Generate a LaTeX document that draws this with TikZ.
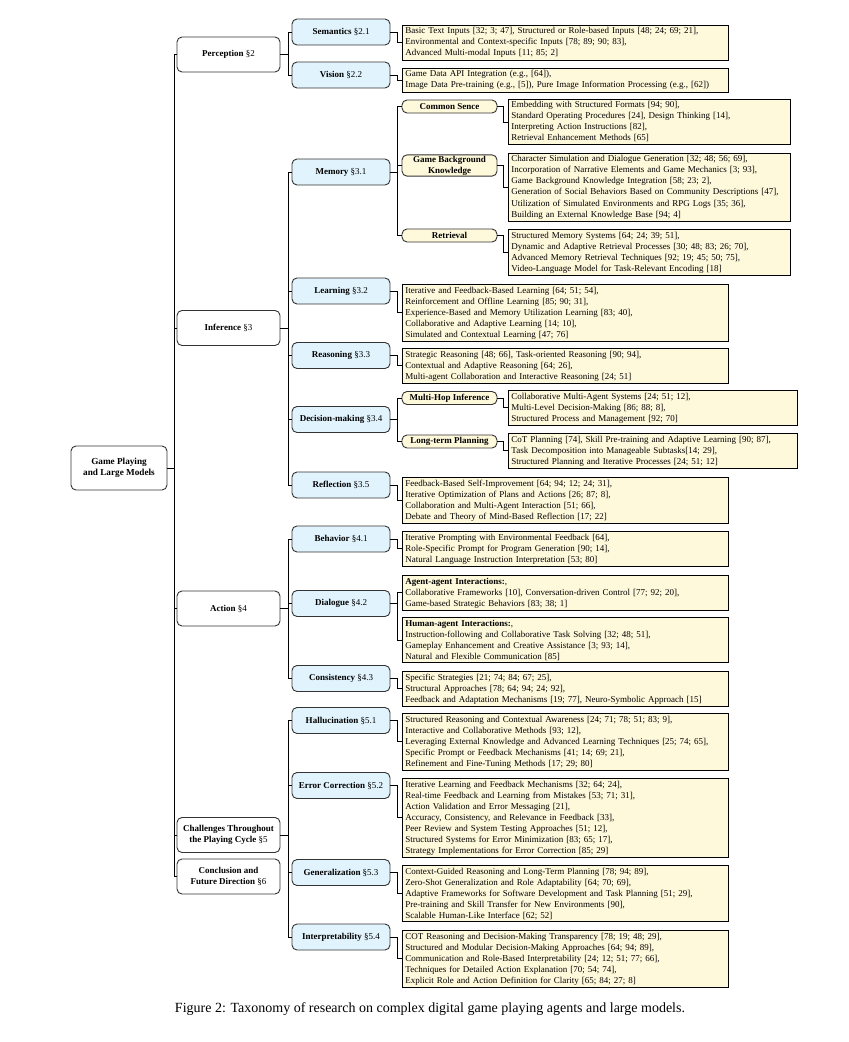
\documentclass[tikz,border=0pt]{standalone}
\usepackage{fontspec}
\setmainfont{Liberation Serif}
\usetikzlibrary{positioning}
\definecolor{secblue}{HTML}{E1F3FC}
\definecolor{leafyellow}{HTML}{FFF9DC}

\begin{document}
\begin{tikzpicture}
    [
    x=1pt, y=-1pt,
    every node/.style={font=\fontsize{9}{11}\selectfont},
    rootbox/.style={
        rectangle,
        draw=black!80,
        line width=0.9pt,
        rounded corners=5pt,
        fill=white,
        minimum width=96pt,
        minimum height=44pt,
        align=center,
        font=\fontsize{9.2}{11.5}\selectfont\bfseries
    },
    topicbox/.style={
        rectangle,
        draw=black!80,
        line width=0.9pt,
        rounded corners=5pt,
        fill=white,
        minimum width=103pt,
        minimum height=35pt,
        align=center
    },
    secbox/.style={
        rectangle,
        draw=black!80,
        line width=0.9pt,
        rounded corners=5pt,
        fill=secblue,
        minimum width=98pt,
        minimum height=26pt,
        align=center
    },
    aspect/.style={
        rectangle,
        draw=black!80,
        line width=0.9pt,
        rounded corners=5pt,
        fill=leafyellow,
        minimum width=95pt,
        minimum height=13pt,
        inner ysep=1pt,
        align=center,
        font=\fontsize{9}{11}\selectfont\bfseries
    },
    leaf/.style={
        rectangle,
        draw=black,
        line width=0.9pt,
        fill=leafyellow,
        anchor=north west,
        align=left,
        text width=320pt,
        inner xsep=3pt,
        inner ysep=2.3pt
    },
    branch/.style={
        draw=black,
        line width=0.8pt
    }
    ]
    \useasboundingbox (0,0) rectangle (849,1042);

    % root and first level
    \node (root) [rootbox] at (119,468) {Game Playing\\and Large Models};
    \node (per) [topicbox] at (228.5,54.5) {\textbf{Perception} §2};
    \node (inf) [topicbox] at (228.5,328) {\textbf{Inference} §3};
    \node (act) [topicbox] at (228.5,608.5) {\textbf{Action} §4};
    \node (cha) [topicbox] at (228.5,835) {\textbf{Challenges Throughout}\\\textbf{the Playing Cycle} §5};
    \node (con) [topicbox] at (228.5,876.5) {\textbf{Conclusion and}\\\textbf{Future Direction} §6};

    % second level
    \node (sem) [secbox] at (341,32) {\textbf{Semantics} §2.1};
    \node (vis) [secbox] at (341,75) {\textbf{Vision} §2.2};
    \node (mem) [secbox] at (341,172) {\textbf{Memory} §3.1};
    \node (lea) [secbox] at (341,291) {\textbf{Learning} §3.2};
    \node (rea) [secbox] at (341,355.5) {\textbf{Reasoning} §3.3};
    \node (dec) [secbox] at (341,419.5) {\textbf{Decision-making} §3.4};
    \node (ref) [secbox] at (341,485) {\textbf{Reflection} §3.5};
    \node (beh) [secbox] at (341,539) {\textbf{Behavior} §4.1};
    \node (dia) [secbox] at (341,603.5) {\textbf{Dialogue} §4.2};
    \node (cns) [secbox] at (341,678.5) {\textbf{Consistency} §4.3};
    \node (hal) [secbox] at (341,720.5) {\textbf{Hallucination} §5.1};
    \node (err) [secbox] at (341,785.5) {\textbf{Error Correction} §5.2};
    \node (gen) [secbox] at (341,872.5) {\textbf{Generalization} §5.3};
    \node (int) [secbox] at (341,937) {\textbf{Interpretability} §5.4};

    % third level
    \node (cs) [aspect] at (449.5,106.5) {Common Sence};
    \node (gbk) [aspect] at (449.5,165.5) {Game Background\\Knowledge};
    \node (ret) [aspect] at (449.5,235.5) {Retrieval};
    \node (mhi) [aspect] at (449.5,398) {Multi-Hop Inference};
    \node (ltp) [aspect] at (449.5,441.5) {Long-term Planning};

    % leaves of the second level
    \node (semL) [leaf] at (402,25) {Basic Text Inputs [32; 3; 47], Structured or Role-based Inputs [48; 24; 69; 21],\\Environmental and Context-specific Inputs [78; 89; 90; 83],\\Advanced Multi-modal Inputs [11; 85; 2]};
    \node (visL) [leaf] at (402,68) {Game Data API Integration (e.g., [64]),\\Image Data Pre-training (e.g., [5]), Pure Image Information Processing (e.g., [62])};
    \node (leaL) [leaf] at (402,284) {Iterative and Feedback-Based Learning [64; 51; 54],\\Reinforcement and Offline Learning [85; 90; 31],\\Experience-Based and Memory Utilization Learning [83; 40],\\Collaborative and Adaptive Learning [14; 10],\\Simulated and Contextual Learning [47; 76]};
    \node (reaL) [leaf] at (402,348) {Strategic Reasoning [48; 66], Task-oriented Reasoning [90; 94],\\Contextual and Adaptive Reasoning [64; 26],\\Multi-agent Collaboration and Interactive Reasoning [24; 51]};
    \node (refL) [leaf] at (402,477) {Feedback-Based Self-Improvement [64; 94; 12; 24; 31],\\Iterative Optimization of Plans and Actions [26; 87; 8],\\Collaboration and Multi-Agent Interaction [51; 66],\\Debate and Theory of Mind-Based Reflection [17; 22]};
    \node (behL) [leaf] at (402,531) {Iterative Prompting with Environmental Feedback [64],\\Role-Specific Prompt for Program Generation [90; 14],\\Natural Language Instruction Interpretation [53; 80]};
    \node (agtL) [leaf] at (402,575) {\textbf{Agent-agent Interactions:},\\Collaborative Frameworks [10], Conversation-driven Control [77; 92; 20],\\Game-based Strategic Behaviors [83; 38; 1]};
    \node (humL) [leaf] at (402,617) {\textbf{Human-agent Interactions:},\\Instruction-following and Collaborative Task Solving [32; 48; 51],\\Gameplay Enhancement and Creative Assistance [3; 93; 14],\\Natural and Flexible Communication [85]};
    \node (cnsL) [leaf] at (402,671) {Specific Strategies [21; 74; 84; 67; 25],\\Structural Approaches [78; 64; 94; 24; 92],\\Feedback and Adaptation Mechanisms [19; 77], Neuro-Symbolic Approach [15]};
    \node (halL) [leaf] at (402,713) {Structured Reasoning and Contextual Awareness [24; 71; 78; 51; 83; 9],\\Interactive and Collaborative Methods [93; 12],\\Leveraging External Knowledge and Advanced Learning Techniques [25; 74; 65],\\Specific Prompt or Feedback Mechanisms [41; 14; 69; 21],\\Refinement and Fine-Tuning Methods [17; 29; 80]};
    \node (errL) [leaf] at (402,778) {Iterative Learning and Feedback Mechanisms [32; 64; 24],\\Real-time Feedback and Learning from Mistakes [53; 71; 31],\\Action Validation and Error Messaging [21],\\Accuracy, Consistency, and Relevance in Feedback [33],\\Peer Review and System Testing Approaches [51; 12],\\Structured Systems for Error Minimization [83; 65; 17],\\Strategy Implementations for Error Correction [85; 29]};
    \node (genL) [leaf] at (402,865) {Context-Guided Reasoning and Long-Term Planning [78; 94; 89],\\Zero-Shot Generalization and Role Adaptability [64; 70; 69],\\Adaptive Frameworks for Software Development and Task Planning [51; 29],\\Pre-training and Skill Transfer for New Environments [90],\\Scalable Human-Like Interface [62; 52]};
    \node (intL) [leaf] at (402,930) {COT Reasoning and Decision-Making Transparency [78; 19; 48; 29],\\Structured and Modular Decision-Making Approaches [64; 94; 89],\\Communication and Role-Based Interpretability [24; 12; 51; 77; 66],\\Techniques for Detailed Action Explanation [70; 54; 74],\\Explicit Role and Action Definition for Clarity [65; 84; 27; 8]};

    % leaves of the third level
    \node (csL) [leaf, text width=276pt] at (508,99) {Embedding with Structured Formats [94; 90],\\Standard Operating Procedures [24], Design Thinking [14],\\Interpreting Action Instructions [82],\\Retrieval Enhancement Methods [65]};
    \node (gbkL) [leaf, text width=276pt] at (508,153) {Character Simulation and Dialogue Generation [32; 48; 56; 69],\\Incorporation of Narrative Elements and Game Mechanics [3; 93],\\Game Background Knowledge Integration [58; 23; 2],\\Generation of Social Behaviors Based on Community Descriptions [47],\\Utilization of Simulated Environments and RPG Logs [35; 36],\\Building an External Knowledge Base [94; 4]};
    \node (retL) [leaf, text width=276pt] at (508,229) {Structured Memory Systems [64; 24; 39; 51],\\Dynamic and Adaptive Retrieval Processes [30; 48; 83; 26; 70],\\Advanced Memory Retrieval Techniques [92; 19; 45; 50; 75],\\Video-Language Model for Task-Relevant Encoding [18]};
    \node (mhiL) [leaf, text width=283pt] at (508,390) {Collaborative Multi-Agent Systems [24; 51; 12],\\Multi-Level Decision-Making [86; 88; 8],\\Structured Process and Management [92; 70]};
    \node (ltpL) [leaf, text width=283pt] at (508,433) {CoT Planning [74], Skill Pre-training and Adaptive Learning [90; 87],\\Task Decomposition into Manageable Subtasks[14; 29],\\Structured Planning and Iterative Processes [24; 51; 12]};

    % connectors
    \foreach \t in {per,inf,act,cha,con}
        \draw[branch] (root.east) -- ++(6.5,0) |- (\t.west);
    \foreach \p/\s in {per/sem, per/vis, inf/mem, inf/lea, inf/rea, inf/dec, inf/ref, act/beh, act/dia, act/cns, cha/hal, cha/err, cha/gen, cha/int}
        \draw[branch] (\p.east) -- ++(8,0) |- (\s.west);
    \foreach \p/\s in {mem/cs, mem/gbk, mem/ret, dec/mhi, dec/ltp}
        \draw[branch] (\p.east) -- ++(7,0) |- (\s.west);
    \foreach \p/\l in {sem/semL, vis/visL, lea/leaL, rea/reaL, ref/refL, beh/behL, dia/agtL, dia/humL, cns/cnsL, hal/halL, err/errL, gen/genL, int/intL}
        \draw[branch] (\p.east) -- ++(7,0) |- (\l.west);
    \foreach \p/\l in {cs/csL, gbk/gbkL, ret/retL, mhi/mhiL, ltp/ltpL}
        \draw[branch] (\p.east) -- ++(6,0) |- (\l.west);

    % caption
    \node (caption) [font=\fontsize{14}{16}\selectfont] at (430,1009) {Figure 2: Taxonomy of research on complex digital game playing agents and large models.};

\end{tikzpicture}
\end{document}
